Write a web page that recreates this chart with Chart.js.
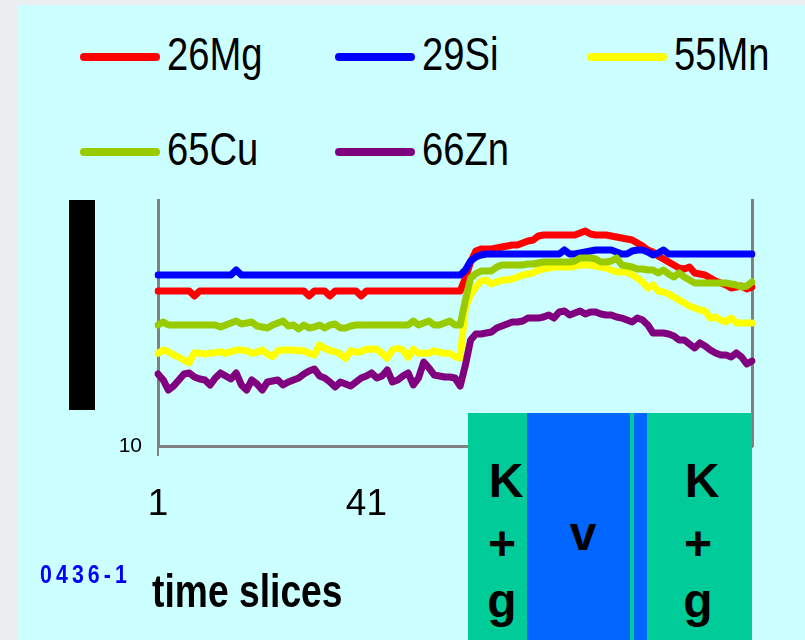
<!DOCTYPE html>
<html>
<head>
<meta charset="utf-8">
<script src="https://cdn.jsdelivr.net/npm/chart.js@4.4.0/dist/chart.umd.min.js"></script>
<style>
  body { margin: 0; width: 805px; height: 640px; overflow: hidden; position: relative; background: #EBEEF1; }
  .abs { position: absolute; }
  #bg { left: 17px; top: 5px; width: 788px; height: 635px; background: #CCFFFF; }
  #chart { left: 0; top: 0; }
  .leg { font-family: 'Liberation Sans', Arial, sans-serif; font-size: 46px; line-height: 46px; color: #000; white-space: nowrap; transform: scaleX(0.83); transform-origin: 0 0; }
  .legline { height: 8px; width: 80px; border-radius: 4px; }
  #blackbar { left: 69px; top: 200px; width: 26px; height: 210px; background: #000; }
  #box { left: 468px; top: 413px; width: 284px; height: 227px; background: #00CC99; overflow: hidden; }
  .col { top: 0; height: 227px; }
  .zone { font-family: 'Liberation Sans', Arial, sans-serif; font-weight: bold; font-size: 48px; line-height: 48px; width: 60px; text-align: center; color: #000; }
  #sample { left: 40px; top: 561px; font-family: 'Liberation Sans', Arial, sans-serif; font-weight: bold; font-size: 26px; line-height: 26px; letter-spacing: 5px; color: #0000FF; transform: scaleX(0.82); transform-origin: 0 0; white-space: nowrap; }
  #xtitle { left: 152px; top: 568px; font-family: 'Liberation Sans', Arial, sans-serif; font-weight: bold; font-size: 46px; line-height: 46px; color: #000; transform: scaleX(0.81); transform-origin: 0 0; white-space: nowrap; }
</style>
</head>
<body>
<div id="bg" class="abs"></div>
<div id="legend"></div>
<div id="blackbar" class="abs"></div>
<canvas id="chart" class="abs" width="805" height="640"></canvas>
<div id="xtitle" class="abs">time slices</div>
<div id="box" class="abs">
  <div class="abs col" style="left:59px;width:103px;background:#0066FF"></div>
  <div class="abs col" style="left:166px;width:13px;background:#0066FF"></div>
  <div class="abs zone" style="left:8px;top:44px">K</div>
  <div class="abs zone" style="left:4px;top:107px">+</div>
  <div class="abs zone" style="left:4px;top:164px">g</div>
  <div class="abs zone" style="left:85px;top:97px">v</div>
  <div class="abs zone" style="left:204px;top:44px">K</div>
  <div class="abs zone" style="left:200px;top:107px">+</div>
  <div class="abs zone" style="left:200px;top:164px">g</div>
</div>
<div id="sample" class="abs">0436-1</div>
<script>
// time slice numbers (x categories)
const slices = [1,2,3,4,5,6,7,8,9,10,11,12,13,14,15,16,17,18,19,20,
  21,22,23,24,25,26,27,28,29,30,31,32,33,34,35,36,37,38,39,40,
  41,42,43,44,45,46,47,48,49,50,51,52,53,54,55,56,57,58,59,60,
  61,62,63,64,65,66,67,68,69,70,71,72,73,74,75,76,77,78,79,80,
  81,82,83,84,85,86,87,88,89,90,91,92,93,94,95,96,97,98,99,100,
  101,102,103,104,105,106,107,108,109,110,111,112,113,114,115];
const shownSlices = [1, 41, 81];

const isotopes = ['26Mg', '29Si', '55Mn', '65Cu', '66Zn'];
const colors = ['#FF0000', '#0000FF', '#FFFF00', '#99CC00', '#800080'];

// counts per time slice
const mg26 = [60400,60400,60400,60400,60400,60400,60400,45600,60400,60400,
  60400,60400,60400,60400,60400,60400,60400,60400,60400,60400,
  60400,60400,60400,60400,60400,60400,60400,60400,60400,45600,
  60400,60400,60400,45600,60400,60400,60400,60400,60400,45600,
  60400,60400,60400,60400,60400,60400,60400,60400,60400,60400,
  60400,60400,60400,60400,60400,60400,60400,60400,60400,125000,
  308000,571000,639000,639000,639000,676000,716000,757000,801000,801000,
  896000,1000000,1058000,1324000,1401000,1401000,1401000,1401000,1401000,1401000,
  1401000,1568000,1754000,1482000,1401000,1401000,1401000,1324000,1252000,1184000,
  1119000,1058000,896000,757000,605000,540000,431000,364000,308000,260000,
  220000,208000,232000,166000,157000,148000,125000,106000,94800,84700,
  71600,75700,80100,67600,75700];
const si29 = [148000,148000,148000,148000,148000,148000,148000,148000,148000,148000,
  148000,148000,148000,148000,148000,196000,148000,148000,148000,148000,
  148000,148000,148000,148000,148000,148000,148000,148000,148000,148000,
  148000,148000,148000,148000,148000,148000,148000,148000,148000,148000,
  148000,148000,148000,148000,148000,148000,148000,148000,148000,148000,
  148000,148000,148000,148000,148000,148000,148000,148000,148000,196000,
  326000,408000,456000,483000,483000,483000,483000,483000,483000,483000,
  483000,483000,483000,483000,483000,483000,483000,483000,605000,483000,
  483000,511000,540000,571000,605000,605000,605000,605000,540000,483000,
  483000,571000,605000,605000,540000,456000,511000,605000,483000,483000,
  483000,483000,483000,483000,483000,483000,483000,483000,483000,483000,
  483000,483000,483000,483000,483000];
const mn55 = [1820,2200,2000,1660,1460,1250,1080,1890,1820,1750,
  1820,1890,2000,1820,2000,2200,2200,2110,1820,1930,
  2200,1750,1510,2110,2200,2200,2200,2110,2110,1820,
  1660,2910,2420,2110,2000,1750,1380,2110,1930,2000,
  2290,2320,2290,1820,1380,2200,2420,2200,1460,2290,
  1820,1820,1820,2110,1930,1820,1820,1510,1400,24600,
  48300,75700,106000,112000,89600,100000,112000,112000,118000,132000,
  148000,157000,166000,196000,208000,220000,232000,232000,232000,232000,
  246000,260000,260000,260000,246000,232000,220000,196000,175000,175000,
  175000,148000,125000,100000,71600,84700,60500,57100,51100,43100,
  36400,30800,26000,23200,20800,19600,13200,14000,11800,10600,
  13200,10000,10000,10000,10000];
const cu65 = [8960,10600,8960,8960,8960,8960,8960,8960,8960,8960,
  8960,8960,8010,8960,10000,11200,9480,10000,10600,8470,
  8010,7570,8960,10000,11200,8470,8960,7160,8960,7570,
  8010,8960,7570,8960,9480,7570,7570,8470,8960,8960,
  8960,8960,8960,8960,8960,8960,8960,8960,8960,11200,
  8960,10000,11200,8960,8960,10000,11200,8960,8960,36400,
  125000,160000,185000,185000,185000,232000,260000,260000,260000,260000,
  260000,275000,275000,291000,308000,308000,308000,308000,308000,308000,
  326000,386000,386000,386000,364000,308000,308000,326000,386000,260000,
  246000,232000,208000,208000,196000,196000,166000,196000,157000,132000,
  166000,132000,112000,94800,94800,94800,94800,94800,94800,94800,
  89600,84700,75700,80100,100000];
const zn66 = [571,408,232,291,408,571,605,483,431,408,
  308,456,605,511,431,605,308,232,408,326,
  232,364,386,408,308,364,408,456,571,676,
  757,511,456,364,275,364,326,291,364,456,
  511,605,456,511,716,364,408,511,605,308,
  456,1120,801,540,511,483,483,456,291,948,
  3860,5400,5400,5710,6050,7570,8470,9480,10600,10600,
  11200,13200,13200,13200,14000,15700,13200,18600,19600,15700,
  17500,19600,16600,18600,18600,16600,15700,15700,14000,13200,
  11800,10600,13200,11800,8960,5710,5710,5710,5400,4830,
  3860,3860,3080,2460,3260,2750,2200,1860,1660,1660,
  1480,1860,1480,1000,1180];

const series = [mg26, si29, mn55, cu65, zn66];
const axisGray = '#808080';
const sans = "'Liberation Sans', Arial, sans-serif";

// legend in a grid like the original
const legCols = [80, 335, 587];
const legRows = [57, 152];
const legend = document.getElementById('legend');
isotopes.forEach((name, i) => {
  const x = legCols[i % 3];
  const y = legRows[Math.floor(i / 3)];
  const line = document.createElement('div');
  line.className = 'abs legline';
  line.style.left = x + 'px';
  line.style.top = (y - 4) + 'px';
  line.style.background = colors[i];
  legend.appendChild(line);
  const txt = document.createElement('div');
  txt.className = 'abs leg';
  txt.style.left = (x + 87) + 'px';
  txt.style.top = (y - 26) + 'px';
  txt.textContent = name;
  legend.appendChild(txt);
});

const datasets = series.map((data, i) => ({
  label: isotopes[i],
  data: data,
  borderColor: colors[i],
  backgroundColor: colors[i],
  borderWidth: 7,
  borderJoinStyle: 'round',
  borderCapStyle: 'round',
  pointRadius: 0,
  tension: 0,
  fill: false,
  order: isotopes.length - i
}));

new Chart(document.getElementById('chart').getContext('2d'), {
  type: 'line',
  data: { labels: slices, datasets: datasets },
  options: {
    responsive: false,
    animation: false,
    devicePixelRatio: 1,
    layout: { padding: { left: 0, right: 53, top: 200, bottom: 0 } },
    plugins: { legend: { display: false }, tooltip: { enabled: false } },
    scales: {
      x: {
        type: 'category',
        afterFit: (scale) => { scale.height = 194; },
        grid: {
          drawOnChartArea: false,
          drawTicks: true,
          tickLength: 10,
          lineWidth: 2,
          color: (ctx) => shownSlices.includes(slices[ctx.index]) ? axisGray : 'rgba(0,0,0,0)'
        },
        border: { display: true, color: axisGray, width: 3 },
        ticks: {
          autoSkip: false,
          maxRotation: 0,
          padding: 27,
          color: '#000',
          font: { family: sans, size: 37 },
          callback: function (value, index) {
            return shownSlices.includes(slices[index]) ? String(slices[index]) : null;
          }
        }
      },
      y: {
        type: 'logarithmic',
        min: 10,
        max: 10000000,
        afterFit: (scale) => { scale.width = 158; },
        grid: { display: false, drawTicks: false },
        border: { display: true, color: axisGray, width: 3 },
        ticks: {
          padding: 16,
          color: '#000',
          font: { family: sans, size: 21 },
          callback: (value) => value === 10 ? '10' : null
        }
      },
      y2: {
        type: 'linear',
        position: 'right',
        afterFit: (scale) => { scale.width = 0; },
        grid: { display: false, drawTicks: false },
        border: { display: true, color: axisGray, width: 3 },
        ticks: { display: false }
      }
    }
  }
});
</script>
</body>
</html>
